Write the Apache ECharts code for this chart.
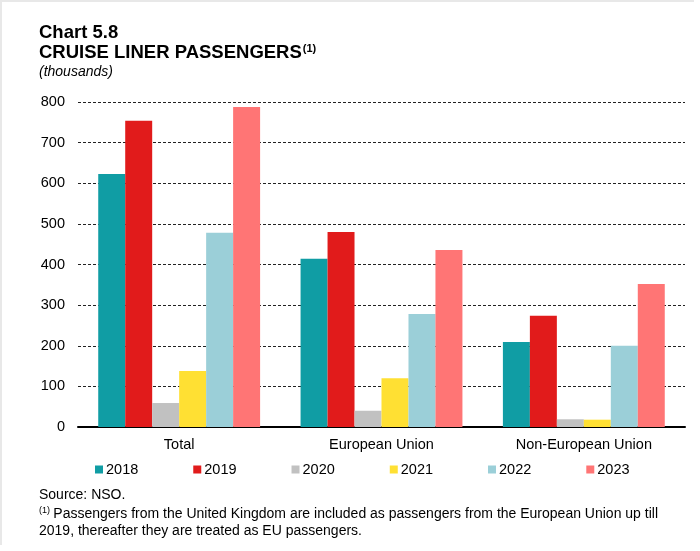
<!DOCTYPE html>
<html>
<head>
<meta charset="utf-8">
<script src="https://cdn.jsdelivr.net/npm/echarts@6/dist/echarts.min.js"></script>
<style>
  html, body { margin: 0; padding: 0; background: #fff; }
  #chart { width: 700px; height: 551px; }
</style>
</head>
<body>
<div id="chart"></div>
<script>
// Cruise liner passengers by origin, thousands
const categories = ['Total', 'European Union', 'Non-European Union'];
const years = ['2018', '2019', '2020', '2021', '2022', '2023'];
const values2018 = [623, 414, 209];
const values2019 = [754, 480, 274];
const values2020 = [59, 40, 19];
const values2021 = [138, 120, 18];
const values2022 = [478, 278, 200];
const values2023 = [788, 436, 352];
const yearColors = ['#109DA4', '#E11B1B', '#C1C1C1', '#FFE033', '#9BCFD8', '#FF7575'];

const seriesValues = [values2018, values2019, values2020, values2021, values2022, values2023];
const FONT = '"Liberation Sans", Arial, sans-serif';

const chart = echarts.init(document.getElementById('chart'), null, { renderer: 'canvas' });

chart.setOption({
  animation: false,
  textStyle: { fontFamily: FONT, color: '#000' },
  grid: { left: 78, right: 15, top: 102, bottom: 124, containLabel: false },
  legend: {
    data: years,
    left: 90,
    top: 457,
    icon: 'rect',
    itemWidth: 8,
    itemHeight: 8,
    itemGap: 55,
    textStyle: { fontFamily: FONT, fontSize: 14.5, color: '#000', padding: [0, 0, 0, -2] }
  },
  xAxis: {
    type: 'category',
    data: categories,
    axisLine: { lineStyle: { color: '#000', width: 2 } },
    axisTick: { show: false },
    axisLabel: { fontFamily: FONT, fontSize: 14.5, color: '#000', margin: 10 },
    splitLine: { show: false }
  },
  yAxis: {
    type: 'value',
    min: 0,
    max: 800,
    interval: 100,
    axisLine: { show: false },
    axisTick: { show: false },
    axisLabel: { fontFamily: FONT, fontSize: 14.5, color: '#000', margin: 13 },
    splitLine: { lineStyle: { color: '#222', type: [3, 2], width: 1 } }
  },
  series: years.map((y, i) => ({
    name: y,
    type: 'bar',
    data: seriesValues[i],
    barGap: '0%',
    barCategoryGap: '20%',
    itemStyle: { color: yearColors[i] }
  })),
  graphic: [
    // frame lines on top and left
    { type: 'rect', left: 0, top: 0, shape: { x: 6, y: 6, width: 694, height: 2 }, style: { fill: '#e8e8e8' } },
    { type: 'rect', left: 0, top: 0, shape: { x: 6, y: 6, width: 2, height: 545 }, style: { fill: '#e8e8e8' } },
    {
      type: 'text', left: 39, top: 23,
      style: { text: 'Chart 5.8', font: 'bold 18.5px ' + FONT, fill: '#000' }
    },
    {
      type: 'text', left: 39, top: 43,
      style: {
        text: '{t|CRUISE LINER PASSENGERS}{s|(1)}',
        rich: {
          t: { font: 'bold 18.5px ' + FONT, fill: '#000' },
          s: { font: 'bold 11px ' + FONT, fill: '#000', verticalAlign: 'top', padding: [0, 0, 9, 1] }
        }
      }
    },
    {
      type: 'text', left: 39, top: 65,
      style: { text: '(thousands)', font: 'italic 14px ' + FONT, fill: '#000' }
    },
    {
      type: 'text', left: 39, top: 488,
      style: { text: 'Source: NSO.', font: '14px ' + FONT, fill: '#000' }
    },
    {
      type: 'text', left: 39, top: 506,
      style: {
        text: '{s|(1)} {t|Passengers from the United Kingdom are included as passengers from the European Union up till}\n{t|2019, thereafter they are treated as EU passengers.}',
        rich: {
          t: { font: '14px ' + FONT, fill: '#000', lineHeight: 17 },
          s: { font: '9px ' + FONT, fill: '#000', verticalAlign: 'top', lineHeight: 17, padding: [0, 0, 7, 0] }
        }
      }
    }
  ]
});
</script>
</body>
</html>
